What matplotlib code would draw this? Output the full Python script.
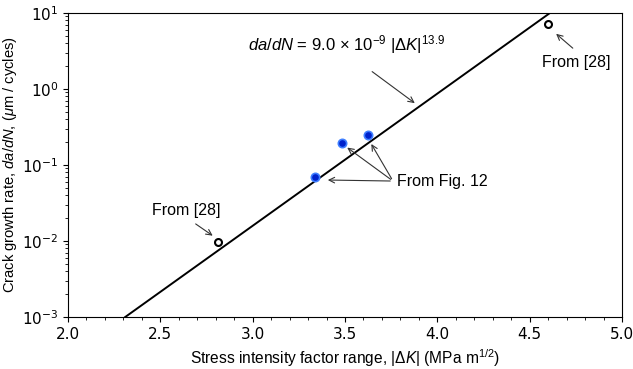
import matplotlib
matplotlib.use("Agg")
import matplotlib.pyplot as plt
from matplotlib.ticker import MultipleLocator

plt.rcParams["font.family"] = ["Liberation Sans", "DejaVu Sans"]
plt.rcParams["mathtext.fontset"] = "custom"
plt.rcParams["mathtext.rm"] = "Liberation Sans"
plt.rcParams["mathtext.it"] = "Liberation Sans:italic"
plt.rcParams["mathtext.bf"] = "Liberation Sans:bold"

# Fitted power-law line (as drawn)
fit_dk = [2.31, 4.61]
fit_rate = [1e-3, 1e1]

# Data from [28]
lit_dk = [2.81, 4.597]
lit_rate = [0.0098, 7.1]

# Data from Fig. 12
fig12_dk = [3.337, 3.482, 3.626]
fig12_rate = [0.070, 0.193, 0.248]

fig, ax = plt.subplots(figsize=(6.33, 3.69), dpi=100)
fig.subplots_adjust(left=0.1074, right=0.9826, top=0.9648, bottom=0.1409)

ax.plot(fit_dk, fit_rate, color="black", lw=1.4)
ax.plot(lit_dk, lit_rate, "o", ms=5, mfc="white", mec="black", mew=1.5)
ax.plot(fig12_dk, fig12_rate, "o", ms=6, mfc="#0022cc", mec="#3f7fff", mew=1.2)

ax.set_yscale("log")
ax.set_xlim(2.0, 5.0)
ax.set_ylim(1e-3, 1e1)
ax.xaxis.set_major_locator(MultipleLocator(0.5))
ax.xaxis.set_minor_locator(MultipleLocator(0.1))
ax.tick_params(labelsize=11)
for lbl in ax.get_xticklabels() + ax.get_yticklabels():
    lbl.set_fontfamily("DejaVu Sans")

ax.set_xlabel(r"Stress intensity factor range, |$\Delta K$| (MPa m$^{1/2}$)", fontsize=11.2)
ax.set_ylabel(r"Crack growth rate, $da/dN$, ($\mu$m / cycles)", fontsize=10.6, labelpad=2)

arrow = dict(arrowstyle="->", color="#333333", lw=0.8)

ax.text(2.975, 3.79, r"$da/dN$ = 9.0 $\times$ 10$^{-9}$ |$\Delta K$|$^{13.9}$",
        fontsize=12, ha="left", va="center")
ax.annotate("", xy=(3.89, 0.62), xytext=(3.635, 1.78), arrowprops=arrow)

ax.text(4.75, 2.2, "From [28]", fontsize=11.5, ha="center", va="center")
ax.annotate("", xy=(4.632, 5.62), xytext=(4.745, 3.26), arrowprops=arrow)

ax.text(2.639, 0.0251, "From [28]", fontsize=11.5, ha="center", va="center")
ax.annotate("", xy=(2.796, 0.0112), xytext=(2.679, 0.0176), arrowprops=arrow)

ax.text(3.78, 0.0615, "From Fig. 12", fontsize=11.5, ha="left", va="center")
heads_dk = [3.392, 3.50, 3.635]
heads_rate = [0.0635, 0.178, 0.203]
for x, y in zip(heads_dk, heads_rate):
    ax.annotate("", xy=(x, y), xytext=(3.76, 0.0615), arrowprops=arrow)

fig.savefig("out.png", dpi=100)
